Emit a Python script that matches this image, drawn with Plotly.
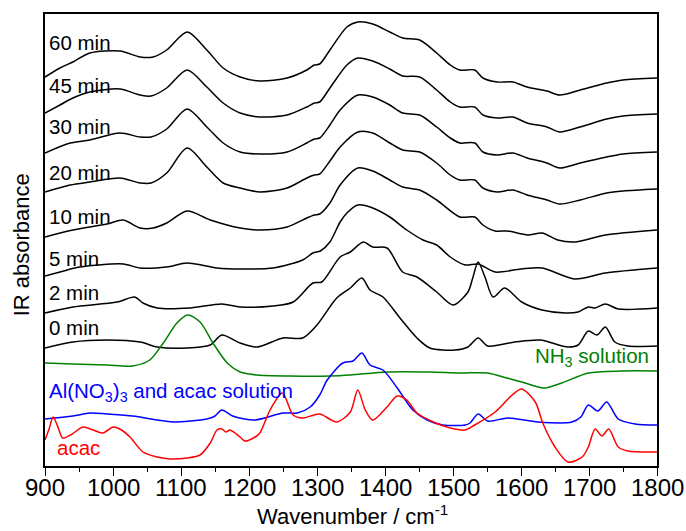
import plotly.graph_objects as go

# ---- IR spectra (wavenumber in cm^-1, stacked absorbance in a.u.) ----
WN_60 = [900, 922, 941, 966, 1010, 1040, 1059, 1079, 1109, 1138, 1162, 1187, 1216, 1256, 1285, 1296,
         1304, 1319, 1344, 1360, 1382, 1407, 1426, 1451, 1476, 1496, 1510, 1532, 1544, 1565, 1588,
         1609, 1638, 1657, 1687, 1726, 1750, 1800]
A_60 = [3.88, 3.97, 4.03, 4.12, 4.14, 4.08, 4.08, 4.15, 4.33, 4.15, 3.97, 3.88, 3.84, 3.87, 3.95, 4.00,
        4.01, 4.15, 4.38, 4.43, 4.41, 4.33, 4.27, 4.25, 4.12, 4.00, 3.95, 3.95, 3.87, 3.83, 3.83,
        3.78, 3.74, 3.70, 3.75, 3.82, 3.85, 3.87]

WN_45 = [900, 922, 941, 966, 1010, 1040, 1056, 1079, 1109, 1138, 1162, 1187, 1216, 1256, 1285, 1296,
         1304, 1319, 1344, 1360, 1382, 1407, 1426, 1451, 1476, 1496, 1510, 1532, 1544, 1565, 1588,
         1609, 1638, 1657, 1687, 1726, 1750, 1800]
A_45 = [3.52, 3.60, 3.67, 3.73, 3.76, 3.70, 3.69, 3.77, 3.95, 3.78, 3.62, 3.52, 3.48, 3.50, 3.58, 3.62,
        3.63, 3.77, 4.00, 4.07, 4.04, 3.96, 3.89, 3.88, 3.75, 3.63, 3.58, 3.58, 3.50, 3.47, 3.48,
        3.42, 3.38, 3.33, 3.38, 3.46, 3.49, 3.51]

WN_30 = [900, 937, 966, 1010, 1040, 1056, 1079, 1109, 1138, 1162, 1187, 1216, 1256, 1285, 1296, 1304,
         1319, 1334, 1360, 1382, 1407, 1426, 1451, 1476, 1496, 1510, 1532, 1544, 1565, 1588, 1609,
         1638, 1657, 1687, 1726, 1750, 1800]
A_30 = [3.12, 3.22, 3.25, 3.32, 3.28, 3.28, 3.36, 3.56, 3.38, 3.22, 3.13, 3.11, 3.13, 3.22, 3.26, 3.27,
        3.40, 3.55, 3.70, 3.68, 3.60, 3.52, 3.50, 3.38, 3.27, 3.22, 3.22, 3.13, 3.10, 3.12, 3.07,
        3.02, 2.97, 3.02, 3.08, 3.11, 3.13]

WN_20 = [900, 937, 966, 1010, 1040, 1056, 1079, 1109, 1138, 1162, 1187, 1216, 1256, 1285, 1296, 1304,
         1319, 1334, 1360, 1382, 1407, 1426, 1451, 1476, 1496, 1510, 1532, 1544, 1565, 1588, 1609,
         1638, 1657, 1687, 1726, 1750, 1800]
A_20 = [2.73, 2.80, 2.83, 2.87, 2.82, 2.82, 2.92, 3.17, 2.98, 2.82, 2.77, 2.73, 2.77, 2.87, 2.90, 2.91,
        3.04, 3.18, 3.33, 3.32, 3.22, 3.15, 3.13, 3.02, 2.90, 2.85, 2.85, 2.77, 2.73, 2.75, 2.70,
        2.65, 2.61, 2.65, 2.72, 2.74, 2.76]

WN_10 = [900, 941, 991, 1015, 1040, 1059, 1079, 1109, 1143, 1187, 1216, 1256, 1285, 1296, 1304, 1319,
         1334, 1360, 1382, 1407, 1426, 1451, 1476, 1510, 1532, 1544, 1562, 1580, 1610, 1631, 1654,
         1679, 1724, 1800]
A_10 = [2.28, 2.35, 2.41, 2.45, 2.37, 2.37, 2.42, 2.54, 2.45, 2.37, 2.35, 2.38, 2.47, 2.50, 2.51, 2.62,
        2.80, 2.97, 2.94, 2.85, 2.78, 2.75, 2.65, 2.48, 2.48, 2.40, 2.34, 2.34, 2.30, 2.32, 2.25,
        2.23, 2.30, 2.35]

WN_5 = [900, 922, 951, 1015, 1040, 1079, 1109, 1153, 1187, 1235, 1279, 1294, 1305, 1319, 1334, 1344,
        1360, 1382, 1407, 1432, 1456, 1476, 1496, 1518, 1537, 1562, 1600, 1631, 1679, 1724, 1800]
A_5 = [1.89, 1.93, 1.98, 2.01, 1.97, 1.98, 2.02, 1.97, 1.96, 1.97, 2.05, 2.12, 2.14, 2.23, 2.43, 2.52,
       2.60, 2.57, 2.48, 2.35, 2.25, 2.20, 2.08, 2.00, 2.01, 1.93, 1.96, 1.97, 1.86, 1.92, 1.97]

WN_2 = [900, 941, 1006, 1032, 1044, 1065, 1113, 1160, 1187, 1235, 1265, 1294, 1307, 1334, 1349, 1368,
        1382, 1403, 1426, 1447, 1476, 1500, 1522, 1529, 1537, 1547, 1559, 1576, 1601, 1631, 1665,
        1684, 1699, 1709, 1724, 1743, 1800]
A_2 = [1.52, 1.58, 1.63, 1.68, 1.62, 1.57, 1.57, 1.61, 1.58, 1.59, 1.63, 1.82, 1.83, 2.08, 2.13, 2.23,
       2.18, 2.17, 1.93, 1.88, 1.73, 1.60, 1.73, 1.87, 2.03, 1.88, 1.68, 1.77, 1.63, 1.55, 1.52,
       1.53, 1.58, 1.57, 1.61, 1.56, 1.57]

WN_0 = [900, 941, 991, 1040, 1065, 1109, 1143, 1160, 1187, 1212, 1250, 1279, 1300, 1329, 1349, 1366,
        1378, 1397, 1422, 1447, 1466, 1503, 1522, 1537, 1551, 1591, 1628, 1669, 1684, 1699, 1712,
        1724, 1738, 1757, 1800]
A_0 = [1.17, 1.23, 1.25, 1.23, 1.18, 1.17, 1.20, 1.30, 1.22, 1.18, 1.27, 1.27, 1.40, 1.67, 1.77, 1.87,
       1.75, 1.68, 1.47, 1.27, 1.17, 1.15, 1.18, 1.27, 1.19, 1.23, 1.25, 1.18, 1.20, 1.34, 1.30,
       1.38, 1.23, 1.19, 1.19]

WN_NH3 = [900, 941, 991, 1029, 1054, 1074, 1094, 1110, 1128, 1147, 1168, 1187, 1212, 1260, 1319, 1349,
          1403, 1466, 1510, 1551, 1579, 1601, 1615, 1635, 1660, 1699, 1749, 1800]
A_NH3 = [1.02, 1.01, 1.00, 0.99, 1.05, 1.22, 1.42, 1.50, 1.43, 1.22, 1.02, 0.93, 0.90, 0.89, 0.89, 0.90,
         0.93, 0.93, 0.92, 0.92, 0.87, 0.83, 0.80, 0.77, 0.82, 0.92, 0.94, 0.94]

WN_AL = [900, 941, 966, 991, 1029, 1065, 1088, 1138, 1150, 1160, 1176, 1209, 1250, 1271, 1290, 1304,
         1315, 1338, 1353, 1366, 1378, 1397, 1418, 1441, 1462, 1485, 1518, 1525, 1537, 1551, 1581,
         1625, 1675, 1688, 1699, 1713, 1726, 1743, 1768, 1800]
A_AL = [0.46, 0.49, 0.52, 0.51, 0.49, 0.45, 0.43, 0.46, 0.49, 0.55, 0.49, 0.45, 0.52, 0.52, 0.58, 0.70,
        0.85, 1.02, 1.04, 1.12, 1.00, 0.95, 0.77, 0.55, 0.45, 0.40, 0.40, 0.42, 0.51, 0.44, 0.47,
        0.43, 0.43, 0.48, 0.60, 0.54, 0.63, 0.46, 0.41, 0.40]

WN_ACAC = [900, 906, 912, 919, 926, 940, 956, 985, 1000, 1010, 1025, 1044, 1065, 1084, 1109, 1128,
           1143, 1153, 1160, 1166, 1172, 1187, 1194, 1209, 1216, 1231, 1249, 1265, 1279, 1304, 1329,
           1349, 1360, 1371, 1382, 1403, 1418, 1432, 1447, 1471, 1496, 1518, 1532, 1562, 1587, 1601,
           1621, 1632, 1650, 1669, 1690, 1699, 1709, 1719, 1729, 1743, 1757, 1800]
A_ACAC = [0.25, 0.36, 0.48, 0.38, 0.27, 0.31, 0.38, 0.32, 0.38, 0.36, 0.28, 0.13, 0.08, 0.06, 0.07, 0.10,
          0.22, 0.35, 0.36, 0.33, 0.35, 0.28, 0.24, 0.28, 0.32, 0.55, 0.72, 0.50, 0.47, 0.51, 0.43,
          0.53, 0.75, 0.55, 0.45, 0.58, 0.69, 0.65, 0.52, 0.43, 0.37, 0.35, 0.40, 0.53, 0.70, 0.76,
          0.63, 0.42, 0.18, 0.03, 0.08, 0.18, 0.36, 0.29, 0.36, 0.18, 0.14, 0.13]

# labels drawn next to each trace
TIME_LABELS = ["60 min", "45 min", "30 min", "20 min", "10 min", "5 min", "2 min", "0 min"]
TIME_LABEL_Y = [4.225, 3.80, 3.385, 2.925, 2.49, 2.065, 1.73, 1.375]

X_TICKS = [900, 1000, 1100, 1200, 1300, 1400, 1500, 1600, 1700, 1800]
X_MINOR = [950, 1050, 1150, 1250, 1350, 1450, 1550, 1650, 1750]

BLACK, GREEN, BLUE, RED = "#000000", "#008000", "#0000ff", "#ff0000"

series = [
    (WN_60, A_60, BLACK), (WN_45, A_45, BLACK), (WN_30, A_30, BLACK), (WN_20, A_20, BLACK),
    (WN_10, A_10, BLACK), (WN_5, A_5, BLACK), (WN_2, A_2, BLACK), (WN_0, A_0, BLACK),
    (WN_NH3, A_NH3, GREEN), (WN_AL, A_AL, BLUE), (WN_ACAC, A_ACAC, RED),
]

fig = go.Figure()
for wn, a, color in series:
    fig.add_trace(go.Scatter(
        x=wn, y=a, mode="lines", showlegend=False, hoverinfo="skip",
        line=dict(color=color, width=1.5, shape="spline", smoothing=0.8),
    ))

LABEL_FONT = dict(family="Arial, Liberation Sans, sans-serif", size=20.5)
NARROW = "Liberation Sans Narrow, Arial Narrow, Arial, sans-serif"
for text, y in zip(TIME_LABELS, TIME_LABEL_Y):
    fig.add_annotation(x=903, y=y, text=text, showarrow=False, xanchor="left", yanchor="middle",
                       font=dict(LABEL_FONT, color=BLACK))
fig.add_annotation(x=903, y=0.73, text="Al(NO<sub>3</sub>)<sub>3</sub> and acac solution",
                   showarrow=False, xanchor="left", yanchor="middle", font=dict(LABEL_FONT, color=BLUE))
fig.add_annotation(x=914, y=0.18, text="acac", showarrow=False, xanchor="left", yanchor="middle",
                   font=dict(LABEL_FONT, color=RED))
fig.add_annotation(x=1618, y=1.08, text="NH<sub>3</sub> solution", showarrow=False, xanchor="left",
                   yanchor="middle", font=dict(LABEL_FONT, color=GREEN))

# x tick labels, set just below the outward ticks
for t in X_TICKS:
    fig.add_annotation(x=t, xref="x", yref="paper", y=-0.0475, text=str(t), showarrow=False,
                       xanchor="center", yanchor="middle", borderpad=0,
                       font=dict(family=NARROW, size=24, color=BLACK))

# axis titles
fig.add_annotation(xref="paper", yref="paper", x=-0.037, y=0.489, text="IR absorbance", textangle=-90,
                   showarrow=False, xanchor="center", yanchor="middle",
                   font=dict(family="Arial, Liberation Sans, sans-serif", size=22, color=BLACK))
fig.add_annotation(xref="paper", yref="paper", x=0.502, y=-0.1405, text="Wavenumber / cm<sup>-1</sup>",
                   showarrow=False, xanchor="center", yanchor="bottom", borderpad=0,
                   font=dict(family=NARROW, size=22, color=BLACK))

fig.update_layout(
    width=686, height=531,
    margin=dict(l=45, r=29, t=14, b=65),
    plot_bgcolor="white", paper_bgcolor="white",
    font=dict(family="Arial, Liberation Sans, sans-serif", color=BLACK),
)
fig.update_xaxes(
    range=[900, 1800], tickmode="array", tickvals=X_TICKS, showticklabels=False,
    ticks="outside", ticklen=8, tickwidth=1.3, tickcolor=BLACK, automargin=False,
    minor=dict(tickvals=X_MINOR, ticks="outside", ticklen=4, tickwidth=1.3, tickcolor=BLACK, showgrid=False),
    showline=True, linecolor=BLACK, linewidth=1.5, mirror=True, showgrid=False, zeroline=False,
)
fig.update_yaxes(
    range=[-0.01, 4.51], showticklabels=False, ticks="", showline=True, linecolor=BLACK,
    linewidth=1.5, mirror=True, showgrid=False, zeroline=False, automargin=False,
)

fig.write_html("out.html")
